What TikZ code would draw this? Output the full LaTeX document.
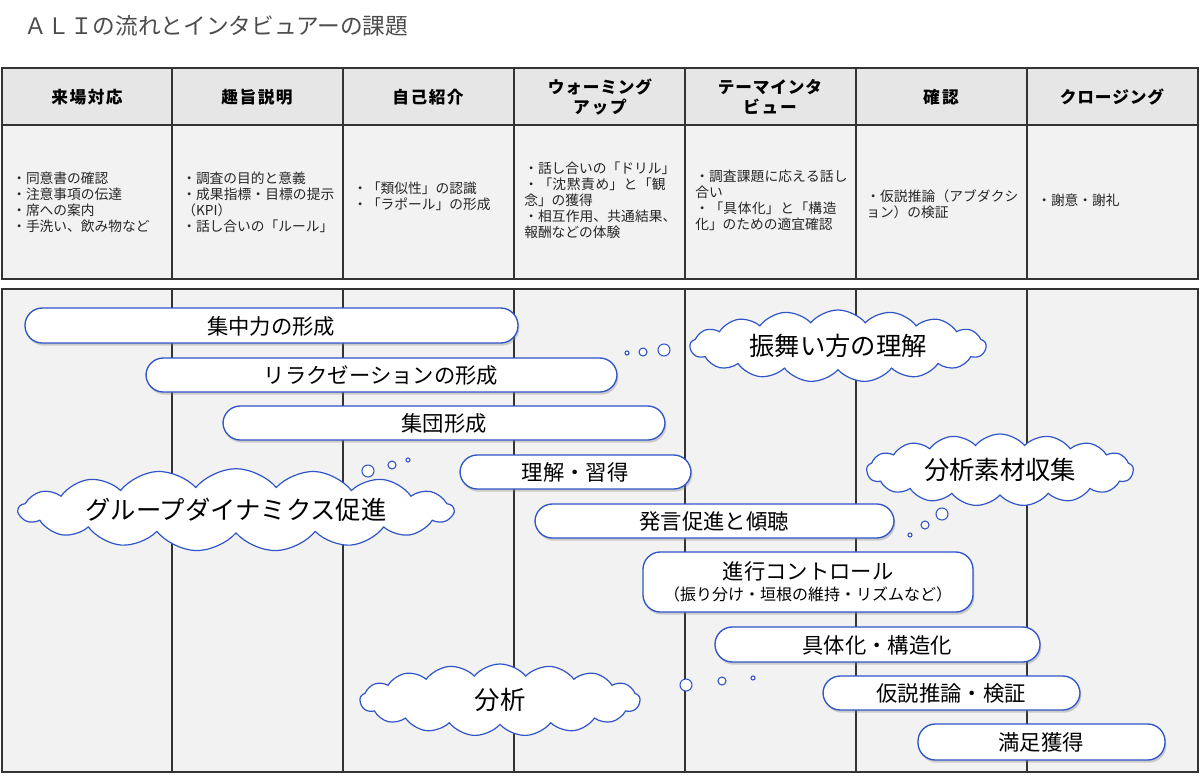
\documentclass[tikz,border=0pt]{standalone}
\usepackage{fontspec}
\setmainfont{Noto Sans CJK JP}
\XeTeXlinebreaklocale "ja"
\XeTeXlinebreakskip=0pt plus 1pt
\usetikzlibrary{shapes.symbols,shadows}
\definecolor{bl}{HTML}{2F55C8}
\definecolor{hd}{HTML}{E6E6E6}
\definecolor{bd}{HTML}{F2F2F2}
\begin{document}
\begin{tikzpicture}[x=0.75pt,y=-0.75pt,
  cell/.style={draw=black!80,line width=1.2pt},
  hdr/.style={font=\fontsize{12.5}{14.5}\selectfont\bfseries,align=center,text width=110pt},
  txt/.style={font=\fontsize{10.3}{12}\selectfont,align=left,text width=116pt,anchor=west,text=black!85,inner sep=0pt},
  rbox/.style={draw=bl,line width=1pt,fill=white,rounded corners=13pt,drop shadow={shadow xshift=1pt,shadow yshift=-2pt,opacity=0.35}},
  lab/.style={font=\fontsize{16}{19}\selectfont},
  cl/.style={cloud,cloud puffs=17,cloud puff arc=100,cloud ignores aspect,draw=bl,fill=white,line width=0.9pt,font=\fontsize{19}{22}\selectfont},
  bub/.style={circle,draw=bl,fill=white,line width=0.8pt,inner sep=0pt}]
\useasboundingbox (0,0) rectangle (1200,782);
\node[anchor=west,font=\fontsize{17}{20}\selectfont,text=black!70] (title) at (20,26) {ＡＬＩの流れとインタビュアーの課題};
% table
\fill[hd] (2,68) rectangle (1198,125);
\fill[bd] (2,125) rectangle (1198,279);
\draw[cell] (2,68) rectangle (1198,279);
\draw[cell] (2,125) -- (1198,125);
\foreach \x in {172,343,514,685,856,1027}{\draw[cell] (\x,68) -- (\x,279);}
\node[hdr] (h1) at (87,97) {来場対応};
\node[hdr] (h2) at (257,97) {趣旨説明};
\node[hdr] (h3) at (428,97) {自己紹介};
\node[hdr] (h4) at (600,97) {ウォーミング\\アップ};
\node[hdr] (h5) at (770,97) {テーマインタ\\ビュー};
\node[hdr] (h6) at (941,97) {確認};
\node[hdr] (h7) at (1112,97) {クロージング};
\node[txt] (b1) at (12,202) {・同意書の確認\\・注意事項の伝達\\・席への案内\\・手洗い、飲み物など};
\node[txt] (b2) at (182,202) {・調査の目的と意義\\・成果指標・目標の提示（KPI）\\・話し合いの「ルール」};
\node[txt] (b3) at (353,196) {・「類似性」の認識\\・「ラポール」の形成};
\node[txt] (b4) at (524,200) {・話し合いの「ドリル」\\・「沈黙責め」と「観念」の獲得\\・相互作用、共通結果、報酬などの体験};
\node[txt] (b5) at (695,200) {・調査課題に応える話し合い\\・「具体化」と「構造化」のための適宜確認};
\node[txt] (b6) at (866,204) {・仮説推論（アブダクション）の検証};
\node[txt] (b7) at (1037,200) {・謝意・謝礼};
% lower panel
\fill[bd] (2,289) rectangle (1198,772);
\draw[cell] (2,289) rectangle (1198,772);
\foreach \x in {172,343,514,685,856,1027}{\draw[cell] (\x,289) -- (\x,772);}
% boxes
\draw[rbox] (25,308) rectangle (518,343); \node[lab] (r1) at (271,326) {集中力の形成};
\draw[rbox] (146,358) rectangle (617,392); \node[lab] (r2) at (381,375) {リラクゼーションの形成};
\draw[rbox] (223,406) rectangle (665,440); \node[lab] (r3) at (444,423) {集団形成};
\draw[rbox] (460,455) rectangle (691,489); \node[lab] (r4) at (575,472) {理解・習得};
\draw[rbox] (535,504) rectangle (894,538); \node[lab] (r5) at (714,521) {発言促進と傾聴};
\draw[rbox] (643,552) rectangle (973,612);
\node[lab,align=center] (r6) at (808,582) {進行コントロール\\[-3pt]{\fontsize{12}{14}\selectfont（振り分け・垣根の維持・リズムなど）}};
\draw[rbox] (715,627) rectangle (1040,662); \node[lab] (r7) at (877,645) {具体化・構造化};
\draw[rbox] (823,676) rectangle (1080,710); \node[lab] (r8) at (951,693) {仮説推論・検証};
\draw[rbox] (918,724) rectangle (1165,760); \node[lab] (r9) at (1041,742) {満足獲得};
% clouds
\node[cl,minimum width=222pt,minimum height=54pt] (c1) at (838,346) {振舞い方の理解};
\node[cl,minimum width=200pt,minimum height=54pt] (c2) at (1000,470) {分析素材収集};
\node[cl,minimum width=325pt,minimum height=58pt] (c3) at (236,510) {グループダイナミクス促進};
\node[cl,minimum width=210pt,minimum height=54pt] (c4) at (500,700) {分析};
% bubbles
\node[bub,minimum size=3pt] (p1) at (627,353) {};
\node[bub,minimum size=6pt] (p2) at (643,352) {};
\node[bub,minimum size=9pt] (p3) at (664,350) {};
\node[bub,minimum size=9pt] (p4) at (942,514) {};
\node[bub,minimum size=6pt] (p5) at (925,525) {};
\node[bub,minimum size=3pt] (p6) at (910,535) {};
\node[bub,minimum size=9pt] (p7) at (368,471) {};
\node[bub,minimum size=6pt] (p8) at (392,465) {};
\node[bub,minimum size=3pt] (p9) at (408,460) {};
\node[bub,minimum size=9pt] (p10) at (686,685) {};
\node[bub,minimum size=6pt] (p11) at (722,681) {};
\node[bub,minimum size=3pt] (p12) at (753,678) {};
\end{tikzpicture}
\end{document}
